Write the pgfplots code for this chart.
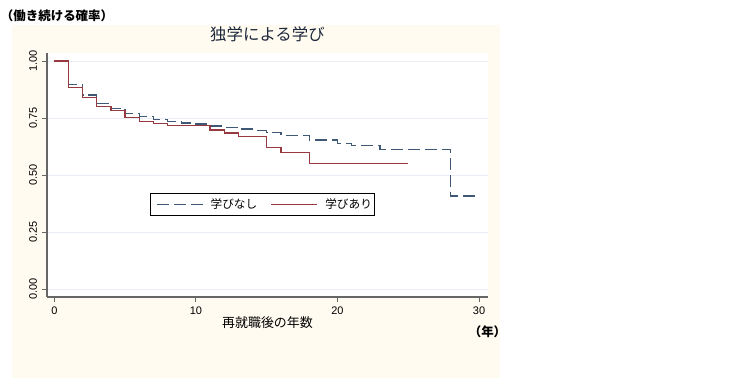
\documentclass[border=0pt]{standalone}
\usepackage{fontspec}
\setmainfont{Liberation Sans}
\newfontfamily\cjk{Noto Sans CJK JP}
\usepackage{pgfplots}
\pgfplotsset{compat=1.18}
\definecolor{cream}{RGB}{255,251,240}
\definecolor{sblue}{RGB}{62,88,118}
\definecolor{sred}{RGB}{150,58,64}
\definecolor{gridc}{RGB}{232,238,243}
\definecolor{titlec}{RGB}{30,40,60}
\begin{document}
\begin{tikzpicture}
\fill[white] (0bp,0bp) rectangle (750bp,378bp);
\fill[cream] (12bp,0bp) rectangle (500bp,353bp);
\begin{axis}[
  at={(47bp,81bp)}, anchor=south west,
  scale only axis, width=441bp, height=244bp,
  xmin=-0.516, xmax=30.63, ymin=-0.035, ymax=1.035,
  axis lines=left,
  axis line style={-, draw=black!60, line width=1.4bp},
  axis background/.style={fill=white},
  xtick={0,10,20,30}, ytick={0,0.25,0.5,0.75,1},
  tick align=outside, major tick length=5bp,
  tick style={draw=black!60, line width=0.8bp},
  ymajorgrids, grid style={gridc, line width=0.8bp},
  /pgf/number format/assume math mode=true,
  tick label style={font=\fontsize{11}{12}\selectfont},
  yticklabel={\pgfmathprintnumber[fixed,fixed zerofill,precision=2]{\tick}},
  yticklabel style={xshift=-1.5bp, rotate=90, anchor=south},
  xticklabel style={yshift=-1.5bp},
  title={独学による学び},
  title style={font=\cjk\fontsize{16.5}{18}\selectfont, color=titlec, at={(0.5,1)}, anchor=center, yshift=13bp},
  xlabel={再就職後の年数},
  xlabel style={font=\cjk\fontsize{13}{15}\selectfont, at={(axis description cs:0.5,0)}, anchor=center, yshift=-25.7bp},
  legend columns=2,
  legend cell align=left,
  legend image code/.code={\path (0bp,0bp); \draw[#1] (5bp,0bp) -- (51bp,0bp);},
  legend style={at={(0.489,0.379)}, anchor=center, draw=black, line width=0.8bp, fill=white,
    inner xsep=0pt, inner ysep=0pt,
    font=\cjk\fontsize{11.7}{13}\selectfont,
    nodes={inner xsep=2.5bp, inner ysep=5.7bp, text height=9bp, text depth=2bp},
    /tikz/every odd column/.append style={column sep=5bp},
    /tikz/every even column/.append style={column sep=5.7bp}},
]
\addplot[sblue, line width=1.3bp, dash pattern=on 12bp off 5bp, const plot] coordinates {
 (0,1) (1,0.896) (2,0.851) (3,0.815) (4,0.792) (5,0.770) (6,0.756) (7,0.742)
 (8,0.734) (9,0.728) (10,0.724) (11,0.715) (12,0.709) (13,0.702) (14,0.696)
 (15,0.687) (16,0.673) (18,0.654) (20,0.639) (21,0.629) (23,0.612) (28,0.408) (30,0.408)};
\addlegendentry{学びなし}
\addplot[sred, line width=1.3bp, const plot] coordinates {
 (0,1) (1,0.884) (2,0.841) (3,0.801) (4,0.783) (5,0.753) (6,0.734) (7,0.727)
 (8,0.718) (11,0.697) (12,0.684) (13,0.669) (15,0.622) (16,0.598) (18,0.551) (25,0.551)};
\addlegendentry{学びあり}
\end{axis}
\node[anchor=west, inner sep=0pt, font=\cjk\bfseries\fontsize{12.5}{14}\selectfont] at (0.8bp,362bp) {（働き続ける確率）};
\node[inner sep=0pt, font=\cjk\bfseries\fontsize{12.5}{14}\selectfont] at (487.5bp,46bp) {（年）};
\end{tikzpicture}
\end{document}
